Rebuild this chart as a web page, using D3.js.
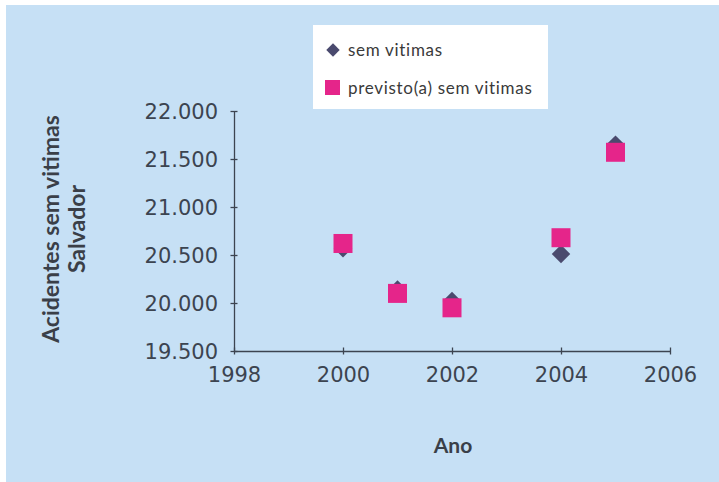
<!DOCTYPE html>
<html>
<head>
<meta charset="utf-8">
<script src="https://cdn.jsdelivr.net/npm/d3@7"></script>
<style>
	body { margin: 0; background: #fff; }
	svg { display: block; }
	.tick text { font-family: 'DejaVu Sans', sans-serif; font-size: 21px; fill: #3c4450; }
	.domain, .tick line { stroke: #3c4450; stroke-width: 1.3px; }
	.title { font-family: Lato, sans-serif; font-weight: bold; fill: #3a3f48; }
	.legend text { font-family: Lato, sans-serif; font-size: 17px; fill: #3a3a3a; letter-spacing: 0.7px; }
</style>
</head>
<body>
<svg id="chart"></svg>
<script>
//Chart values.
const years = [2000, 2001, 2002, 2004, 2005];
const semVitimas = [20570, 20140, 20020, 20510, 21650];
const previsto = [20620, 20100, 19950, 20680, 21570];
const xTicks = [1998, 2000, 2002, 2004, 2006];
const yTicks = [19500, 20000, 20500, 21000, 21500, 22000];
const legendLabels = ['sem vitimas', 'previsto(a) sem vitimas'];

const width = 719, height = 482;
const margin = {left: 234, right: 49, top: 111, bottom: 131};
const innerWidth = width - margin.left - margin.right;
const innerHeight = height - margin.top - margin.bottom;

const svg = d3.select('#chart')
	.attr('width', width)
	.attr('height', height);

//Light blue background, with a thin white edge top and left.
svg.append('rect')
	.attr('x', 6).attr('y', 5)
	.attr('width', width - 6).attr('height', height - 5)
	.style('fill', '#c6e0f5');

const g = svg.append('g')
	.attr('transform', `translate(${margin.left}, ${margin.top})`);

const x = d3.scaleLinear().domain([1998, 2006]).range([0, innerWidth]);
const y = d3.scaleLinear().domain([19500, 22000]).range([innerHeight, 0]);
const fmt = d => d3.format(',')(d).replace(',', '.');

g.append('g')
	.attr('transform', `translate(0, ${innerHeight})`)
	.call(d3.axisBottom(x).tickValues(xTicks).tickFormat(d3.format('d'))
		.tickSizeInner(-7).tickSizeOuter(0).tickPadding(16))
	.call(a => a.selectAll('.tick line').attr('transform', 'translate(0, 3.5)'));

g.append('g')
	.call(d3.axisLeft(y).tickValues(yTicks).tickFormat(fmt)
		.tickSizeInner(-7).tickSizeOuter(0).tickPadding(16))
	.call(a => a.selectAll('.tick line').attr('transform', 'translate(-3.5, 0)'))
	.call(a => a.selectAll('.tick text').attr('dy', '0.36em'));

d3.selectAll('.domain').style('fill', 'none');

//Points: diamonds first, squares drawn over them.
const diamond = d3.symbol().type(d3.symbolSquare).size(170);
g.selectAll('.dia').data(years).join('path')
	.attr('class', 'dia')
	.attr('d', diamond)
	.attr('transform', (d, i) => `translate(${x(d)}, ${y(semVitimas[i])}) rotate(45)`)
	.style('fill', '#4a4a6e');

g.selectAll('.sq').data(years).join('rect')
	.attr('class', 'sq')
	.attr('x', d => x(d) - 9.5)
	.attr('y', (d, i) => y(previsto[i]) - 9.5)
	.attr('width', 19).attr('height', 19)
	.style('fill', '#e5258a');

//Axis titles.
svg.append('text')
	.attr('class', 'title')
	.attr('x', 453).attr('y', 453)
	.attr('text-anchor', 'middle')
	.style('font-size', '21px')
	.text('Ano');

const yt = svg.append('text')
	.attr('class', 'title')
	.attr('transform', 'translate(59, 229) rotate(-90)')
	.attr('text-anchor', 'middle')
	.style('font-size', '23px');
yt.append('tspan').attr('x', 0).attr('dy', 0).text('Acidentes sem vitimas');
yt.append('tspan').attr('x', 0).attr('dy', 26).text('Salvador');

//Legend box.
const lg = svg.append('g').attr('class', 'legend');
lg.append('rect')
	.attr('x', 313).attr('y', 25)
	.attr('width', 235).attr('height', 84)
	.style('fill', '#ffffff');
lg.append('path')
	.attr('d', d3.symbol().type(d3.symbolSquare).size(90))
	.attr('transform', 'translate(333, 50) rotate(45)')
	.style('fill', '#4a4a6e');
lg.append('rect')
	.attr('x', 325).attr('y', 80)
	.attr('width', 15).attr('height', 15)
	.style('fill', '#e5258a');
lg.selectAll('.lt').data(legendLabels).join('text')
	.attr('class', 'lt')
	.attr('x', 348)
	.attr('y', (d, i) => 50 + i * 38)
	.attr('dy', '0.35em')
	.text(d => d);
</script>
</body>
</html>
